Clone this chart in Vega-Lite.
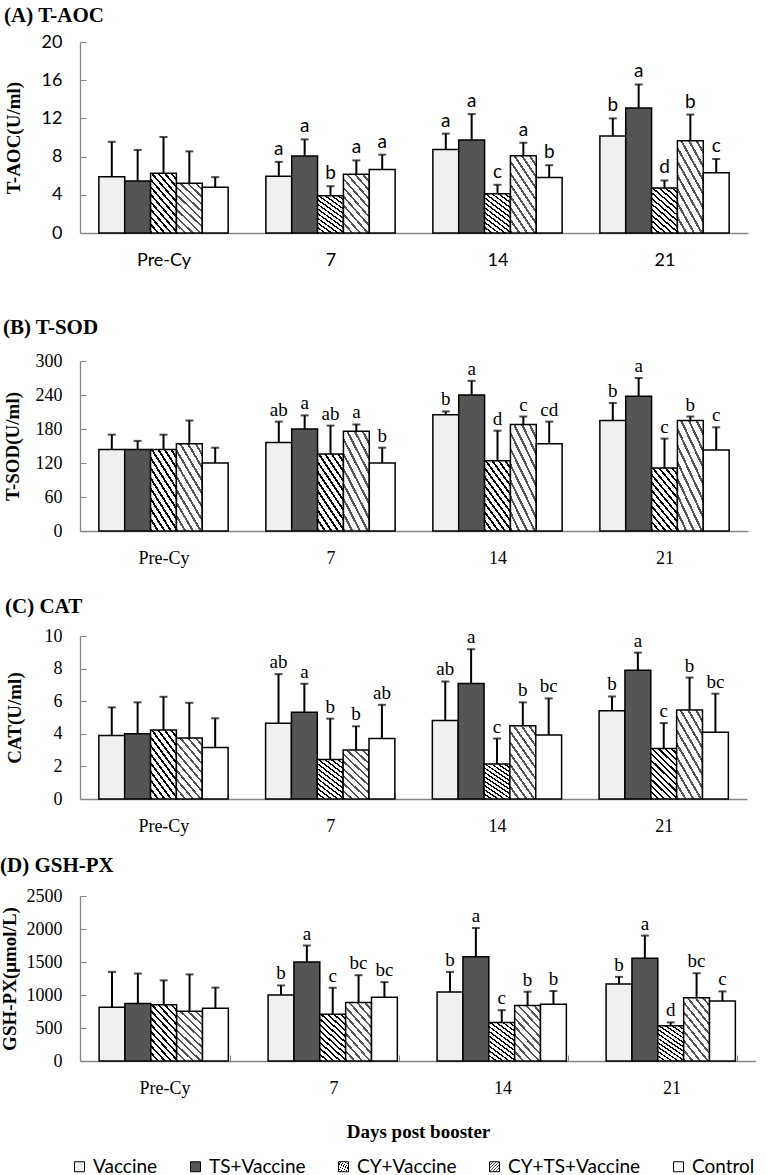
{
"$schema":"https://vega.github.io/schema/vega-lite/v6.json",
"padding":{"left":0,"top":5,"right":0,"bottom":0},
"config":{"view":{"stroke":null},"axis":{"grid":false,"labelOverlap":false}},
"params":[
{"name":"gCY","value":{"gradient":"linear","x1":0,"y1":1,"x2":0.6,"y2":-0.2,"stops":[{"offset":0,"color":"#000"},{"offset":0.0292,"color":"#000"},{"offset":0.0292,"color":"#fff"},{"offset":0.0833,"color":"#fff"},{"offset":0.0833,"color":"#000"},{"offset":0.1125,"color":"#000"},{"offset":0.1125,"color":"#fff"},{"offset":0.1667,"color":"#fff"},{"offset":0.1667,"color":"#000"},{"offset":0.1958,"color":"#000"},{"offset":0.1958,"color":"#fff"},{"offset":0.25,"color":"#fff"},{"offset":0.25,"color":"#000"},{"offset":0.2792,"color":"#000"},{"offset":0.2792,"color":"#fff"},{"offset":0.3333,"color":"#fff"},{"offset":0.3333,"color":"#000"},{"offset":0.3625,"color":"#000"},{"offset":0.3625,"color":"#fff"},{"offset":0.4167,"color":"#fff"},{"offset":0.4167,"color":"#000"},{"offset":0.4458,"color":"#000"},{"offset":0.4458,"color":"#fff"},{"offset":0.5,"color":"#fff"},{"offset":0.5,"color":"#000"},{"offset":0.5292,"color":"#000"},{"offset":0.5292,"color":"#fff"},{"offset":0.5833,"color":"#fff"},{"offset":0.5833,"color":"#000"},{"offset":0.6125,"color":"#000"},{"offset":0.6125,"color":"#fff"},{"offset":0.6667,"color":"#fff"},{"offset":0.6667,"color":"#000"},{"offset":0.6958,"color":"#000"},{"offset":0.6958,"color":"#fff"},{"offset":0.75,"color":"#fff"},{"offset":0.75,"color":"#000"},{"offset":0.7792,"color":"#000"},{"offset":0.7792,"color":"#fff"},{"offset":0.8333,"color":"#fff"},{"offset":0.8333,"color":"#000"},{"offset":0.8625,"color":"#000"},{"offset":0.8625,"color":"#fff"},{"offset":0.9167,"color":"#fff"},{"offset":0.9167,"color":"#000"},{"offset":0.9458,"color":"#000"},{"offset":0.9458,"color":"#fff"},{"offset":1,"color":"#fff"}]}},
{"name":"gCYTS","value":{"gradient":"linear","x1":0,"y1":1,"x2":0.6,"y2":-0.2,"stops":[{"offset":0,"color":"#555"},{"offset":0.03,"color":"#555"},{"offset":0.03,"color":"#fff"},{"offset":0.1,"color":"#fff"},{"offset":0.1,"color":"#555"},{"offset":0.13,"color":"#555"},{"offset":0.13,"color":"#fff"},{"offset":0.2,"color":"#fff"},{"offset":0.2,"color":"#555"},{"offset":0.23,"color":"#555"},{"offset":0.23,"color":"#fff"},{"offset":0.3,"color":"#fff"},{"offset":0.3,"color":"#555"},{"offset":0.33,"color":"#555"},{"offset":0.33,"color":"#fff"},{"offset":0.4,"color":"#fff"},{"offset":0.4,"color":"#555"},{"offset":0.43,"color":"#555"},{"offset":0.43,"color":"#fff"},{"offset":0.5,"color":"#fff"},{"offset":0.5,"color":"#555"},{"offset":0.53,"color":"#555"},{"offset":0.53,"color":"#fff"},{"offset":0.6,"color":"#fff"},{"offset":0.6,"color":"#555"},{"offset":0.63,"color":"#555"},{"offset":0.63,"color":"#fff"},{"offset":0.7,"color":"#fff"},{"offset":0.7,"color":"#555"},{"offset":0.73,"color":"#555"},{"offset":0.73,"color":"#fff"},{"offset":0.8,"color":"#fff"},{"offset":0.8,"color":"#555"},{"offset":0.83,"color":"#555"},{"offset":0.83,"color":"#fff"},{"offset":0.9,"color":"#fff"},{"offset":0.9,"color":"#555"},{"offset":0.93,"color":"#555"},{"offset":0.93,"color":"#fff"},{"offset":1,"color":"#fff"}]}}
],
"datasets":{
"A":[
{"day":"Pre-Cy","group":"Vaccine","mean":5.9,"upper":9.55,"sig":""},
{"day":"Pre-Cy","group":"TS+Vaccine","mean":5.45,"upper":8.7,"sig":""},
{"day":"Pre-Cy","group":"CY+Vaccine","mean":6.25,"upper":10.05,"sig":""},
{"day":"Pre-Cy","group":"CY+TS+Vaccine","mean":5.2,"upper":8.55,"sig":""},
{"day":"Pre-Cy","group":"Control","mean":4.8,"upper":5.85,"sig":""},
{"day":"7","group":"Vaccine","mean":5.95,"upper":7.45,"sig":"a"},
{"day":"7","group":"TS+Vaccine","mean":8.05,"upper":9.8,"sig":"a"},
{"day":"7","group":"CY+Vaccine","mean":3.9,"upper":4.9,"sig":"b"},
{"day":"7","group":"CY+TS+Vaccine","mean":6.15,"upper":7.6,"sig":"a"},
{"day":"7","group":"Control","mean":6.65,"upper":8.2,"sig":"a"},
{"day":"14","group":"Vaccine","mean":8.75,"upper":10.4,"sig":"a"},
{"day":"14","group":"TS+Vaccine","mean":9.75,"upper":12.45,"sig":"a"},
{"day":"14","group":"CY+Vaccine","mean":4.1,"upper":5.05,"sig":"c"},
{"day":"14","group":"CY+TS+Vaccine","mean":8.1,"upper":9.45,"sig":"a"},
{"day":"14","group":"Control","mean":5.8,"upper":7.1,"sig":"b"},
{"day":"21","group":"Vaccine","mean":10.15,"upper":12.0,"sig":"b"},
{"day":"21","group":"TS+Vaccine","mean":13.1,"upper":15.55,"sig":"a"},
{"day":"21","group":"CY+Vaccine","mean":4.7,"upper":5.5,"sig":"d"},
{"day":"21","group":"CY+TS+Vaccine","mean":9.65,"upper":12.4,"sig":"b"},
{"day":"21","group":"Control","mean":6.3,"upper":7.75,"sig":"c"}
],
"B":[
{"day":"Pre-Cy","group":"Vaccine","mean":144,"upper":170,"sig":""},
{"day":"Pre-Cy","group":"TS+Vaccine","mean":144,"upper":159,"sig":""},
{"day":"Pre-Cy","group":"CY+Vaccine","mean":144,"upper":170,"sig":""},
{"day":"Pre-Cy","group":"CY+TS+Vaccine","mean":154,"upper":195,"sig":""},
{"day":"Pre-Cy","group":"Control","mean":120,"upper":147,"sig":""},
{"day":"7","group":"Vaccine","mean":156,"upper":193,"sig":"ab"},
{"day":"7","group":"TS+Vaccine","mean":180,"upper":204,"sig":"a"},
{"day":"7","group":"CY+Vaccine","mean":136,"upper":186,"sig":"ab"},
{"day":"7","group":"CY+TS+Vaccine","mean":176,"upper":188,"sig":"a"},
{"day":"7","group":"Control","mean":120,"upper":147,"sig":"b"},
{"day":"14","group":"Vaccine","mean":205,"upper":211,"sig":"b"},
{"day":"14","group":"TS+Vaccine","mean":240,"upper":265,"sig":"a"},
{"day":"14","group":"CY+Vaccine","mean":124,"upper":177,"sig":"d"},
{"day":"14","group":"CY+TS+Vaccine","mean":188,"upper":202,"sig":"c"},
{"day":"14","group":"Control","mean":154,"upper":193,"sig":"cd"},
{"day":"21","group":"Vaccine","mean":195,"upper":226,"sig":"b"},
{"day":"21","group":"TS+Vaccine","mean":238,"upper":270,"sig":"a"},
{"day":"21","group":"CY+Vaccine","mean":111,"upper":163,"sig":"c"},
{"day":"21","group":"CY+TS+Vaccine","mean":195,"upper":202,"sig":"b"},
{"day":"21","group":"Control","mean":143,"upper":183,"sig":"c"}
],
"C":[
{"day":"Pre-Cy","group":"Vaccine","mean":3.9,"upper":5.62,"sig":""},
{"day":"Pre-Cy","group":"TS+Vaccine","mean":4.0,"upper":5.93,"sig":""},
{"day":"Pre-Cy","group":"CY+Vaccine","mean":4.24,"upper":6.27,"sig":""},
{"day":"Pre-Cy","group":"CY+TS+Vaccine","mean":3.75,"upper":5.9,"sig":""},
{"day":"Pre-Cy","group":"Control","mean":3.16,"upper":4.95,"sig":""},
{"day":"7","group":"Vaccine","mean":4.64,"upper":7.66,"sig":"ab"},
{"day":"7","group":"TS+Vaccine","mean":5.32,"upper":7.07,"sig":"a"},
{"day":"7","group":"CY+Vaccine","mean":2.42,"upper":4.93,"sig":"b"},
{"day":"7","group":"CY+TS+Vaccine","mean":3.0,"upper":4.46,"sig":"b"},
{"day":"7","group":"Control","mean":3.71,"upper":5.78,"sig":"ab"},
{"day":"14","group":"Vaccine","mean":4.81,"upper":7.21,"sig":"ab"},
{"day":"14","group":"TS+Vaccine","mean":7.09,"upper":9.19,"sig":"a"},
{"day":"14","group":"CY+Vaccine","mean":2.14,"upper":3.71,"sig":"c"},
{"day":"14","group":"CY+TS+Vaccine","mean":4.5,"upper":5.93,"sig":"b"},
{"day":"14","group":"Control","mean":3.93,"upper":6.17,"sig":"bc"},
{"day":"21","group":"Vaccine","mean":5.42,"upper":6.29,"sig":"b"},
{"day":"21","group":"TS+Vaccine","mean":7.9,"upper":8.98,"sig":"a"},
{"day":"21","group":"CY+Vaccine","mean":3.1,"upper":4.66,"sig":"c"},
{"day":"21","group":"CY+TS+Vaccine","mean":5.46,"upper":7.45,"sig":"b"},
{"day":"21","group":"Control","mean":4.09,"upper":6.46,"sig":"bc"}
],
"D":[
{"day":"Pre-Cy","group":"Vaccine","mean":815,"upper":1350,"sig":""},
{"day":"Pre-Cy","group":"TS+Vaccine","mean":870,"upper":1325,"sig":""},
{"day":"Pre-Cy","group":"CY+Vaccine","mean":852,"upper":1222,"sig":""},
{"day":"Pre-Cy","group":"CY+TS+Vaccine","mean":752,"upper":1312,"sig":""},
{"day":"Pre-Cy","group":"Control","mean":800,"upper":1112,"sig":""},
{"day":"7","group":"Vaccine","mean":1000,"upper":1145,"sig":"b"},
{"day":"7","group":"TS+Vaccine","mean":1500,"upper":1750,"sig":"a"},
{"day":"7","group":"CY+Vaccine","mean":710,"upper":1110,"sig":"c"},
{"day":"7","group":"CY+TS+Vaccine","mean":885,"upper":1300,"sig":"bc"},
{"day":"7","group":"Control","mean":965,"upper":1195,"sig":"bc"},
{"day":"14","group":"Vaccine","mean":1045,"upper":1350,"sig":"b"},
{"day":"14","group":"TS+Vaccine","mean":1580,"upper":2015,"sig":"a"},
{"day":"14","group":"CY+Vaccine","mean":585,"upper":770,"sig":"c"},
{"day":"14","group":"CY+TS+Vaccine","mean":840,"upper":1050,"sig":"b"},
{"day":"14","group":"Control","mean":860,"upper":1060,"sig":"b"},
{"day":"21","group":"Vaccine","mean":1165,"upper":1275,"sig":"b"},
{"day":"21","group":"TS+Vaccine","mean":1555,"upper":1900,"sig":"a"},
{"day":"21","group":"CY+Vaccine","mean":535,"upper":585,"sig":"d"},
{"day":"21","group":"CY+TS+Vaccine","mean":960,"upper":1330,"sig":"bc"},
{"day":"21","group":"Control","mean":910,"upper":1055,"sig":"c"}
]
},
"spacing":20,
"align":"none",
"resolve":{"scale":{"fill":"shared"},"legend":{"fill":"shared"}},
"vconcat":[
{
"data":{"name":"A"},
"width":668,"height":191,
"title":{"text":"(A) T-AOC","anchor":"start","frame":"bounds","font":"Liberation Serif","fontSize":21,"fontWeight":"bold","color":"black","offset":7},
"encoding":{
"x":{"field":"day","type":"nominal","sort":["Pre-Cy","7","14","21"],"title":" ","scale":{"paddingInner":0.226,"paddingOuter":0.113},"axis":{"labelAngle":0,"tickBand":"extent","tickSize":-6,"tickColor":"#868686","domainColor":"#868686","domainWidth":1.5,"labelFont":"Lato","labelFontSize":18,"labelColor":"black","labelPadding":24,"titleFontSize":10,"titlePadding":18}},
"xOffset":{"field":"group","type":"nominal","sort":["Vaccine","TS+Vaccine","CY+Vaccine","CY+TS+Vaccine","Control"],"scale":{"paddingInner":0,"paddingOuter":0}}
},
"layer":[
{"mark":{"type":"bar","stroke":"black","strokeWidth":1.5},
"encoding":{"y":{"field":"mean","type":"quantitative","title":"T-AOC(U/ml)","scale":{"domain":[0,20],"nice":false},"axis":{"values":[0,4,8,12,16,20],"tickCount":12,"labelOverlap":false,"tickSize":-6,"tickColor":"#868686","domainColor":"#868686","domainWidth":1.3,"labelFont":"Lato","labelFontSize":18,"labelColor":"black","labelPadding":24,"titleFont":"Liberation Serif","titleFontSize":19,"titleFontWeight":"bold","titleColor":"black","titlePadding":18}},
"fill":{"field":"group","type":"nominal","sort":["Vaccine","TS+Vaccine","CY+Vaccine","CY+TS+Vaccine","Control"],"scale":{"domain":["Vaccine","TS+Vaccine","CY+Vaccine","CY+TS+Vaccine","Control"],"range":["#f0f0f0","#555555",{"expr":"gCY"},{"expr":"gCYTS"},"#ffffff"]},"legend":{"orient":"none","legendX":-10,"legendY":1115,"direction":"horizontal","columns":5,"title":null,"symbolType":"square","symbolSize":100,"symbolStrokeColor":"black","symbolStrokeWidth":1,"labelFont":"Lato","labelFontSize":19,"labelColor":"black","columnPadding":28,"labelOffset":4}}}},
{"mark":{"type":"rule","color":"black","strokeWidth":2},"encoding":{"y":{"field":"mean","type":"quantitative","title":"T-AOC(U/ml)"},"y2":{"field":"upper"}}},
{"mark":{"type":"tick","color":"black","thickness":2,"size":8},"encoding":{"y":{"field":"upper","type":"quantitative","title":"T-AOC(U/ml)"}}},
{"mark":{"type":"text","baseline":"alphabetic","dy":-7,"font":"Lato","fontSize":19,"color":"black"},"encoding":{"y":{"field":"upper","type":"quantitative","title":"T-AOC(U/ml)"},"text":{"field":"sig"}}}
]
},
{
"data":{"name":"B"},
"width":668,"height":170,
"title":{"text":"(B) T-SOD","anchor":"start","frame":"bounds","font":"Liberation Serif","fontSize":21,"fontWeight":"bold","color":"black","offset":14},
"encoding":{
"x":{"field":"day","type":"nominal","sort":["Pre-Cy","7","14","21"],"title":" ","scale":{"paddingInner":0.226,"paddingOuter":0.113},"axis":{"labelAngle":0,"tickBand":"extent","tickSize":-6,"tickColor":"#868686","domainColor":"#868686","domainWidth":1.5,"labelFont":"Liberation Serif","labelFontSize":18,"labelColor":"black","labelPadding":24,"titleFontSize":4,"titlePadding":5}},
"xOffset":{"field":"group","type":"nominal","sort":["Vaccine","TS+Vaccine","CY+Vaccine","CY+TS+Vaccine","Control"],"scale":{"paddingInner":0,"paddingOuter":0}}
},
"layer":[
{"mark":{"type":"bar","stroke":"black","strokeWidth":1.5},
"encoding":{"y":{"field":"mean","type":"quantitative","title":"T-SOD(U/ml)","scale":{"domain":[0,300],"nice":false},"axis":{"values":[0,60,120,180,240,300],"tickCount":12,"labelOverlap":false,"tickSize":-6,"tickColor":"#868686","domainColor":"#868686","domainWidth":1.3,"labelFont":"Liberation Serif","labelFontSize":18,"labelColor":"black","labelPadding":24,"titleFont":"Liberation Serif","titleFontSize":19,"titleFontWeight":"bold","titleColor":"black","titlePadding":13}},
"fill":{"field":"group","type":"nominal","sort":["Vaccine","TS+Vaccine","CY+Vaccine","CY+TS+Vaccine","Control"],"scale":{"domain":["Vaccine","TS+Vaccine","CY+Vaccine","CY+TS+Vaccine","Control"],"range":["#f0f0f0","#555555",{"expr":"gCY"},{"expr":"gCYTS"},"#ffffff"]},"legend":{"orient":"none","legendX":-10,"legendY":1115,"direction":"horizontal","columns":5,"title":null,"symbolType":"square","symbolSize":100,"symbolStrokeColor":"black","symbolStrokeWidth":1,"labelFont":"Lato","labelFontSize":19,"labelColor":"black","columnPadding":28,"labelOffset":4}}}},
{"mark":{"type":"rule","color":"black","strokeWidth":2},"encoding":{"y":{"field":"mean","type":"quantitative","title":"T-SOD(U/ml)"},"y2":{"field":"upper"}}},
{"mark":{"type":"tick","color":"black","thickness":2,"size":8},"encoding":{"y":{"field":"upper","type":"quantitative","title":"T-SOD(U/ml)"}}},
{"mark":{"type":"text","baseline":"alphabetic","dy":-6,"font":"Liberation Serif","fontSize":19,"color":"black"},"encoding":{"y":{"field":"upper","type":"quantitative","title":"T-SOD(U/ml)"},"text":{"field":"sig"}}}
]
},
{
"data":{"name":"C"},
"width":667,"height":163,
"title":{"text":"(C) CAT","anchor":"start","frame":"bounds","font":"Liberation Serif","fontSize":21,"fontWeight":"bold","color":"black","offset":10},
"encoding":{
"x":{"field":"day","type":"nominal","sort":["Pre-Cy","7","14","21"],"title":null,"scale":{"paddingInner":0.226,"paddingOuter":0.113},"axis":{"labelAngle":0,"tickBand":"extent","tickSize":-6,"tickColor":"#868686","domainColor":"#868686","domainWidth":1.5,"labelFont":"Liberation Serif","labelFontSize":18,"labelColor":"black","labelPadding":24}},
"xOffset":{"field":"group","type":"nominal","sort":["Vaccine","TS+Vaccine","CY+Vaccine","CY+TS+Vaccine","Control"],"scale":{"paddingInner":0,"paddingOuter":0}}
},
"layer":[
{"mark":{"type":"bar","stroke":"black","strokeWidth":1.5},
"encoding":{"y":{"field":"mean","type":"quantitative","title":"CAT(U/ml)","scale":{"domain":[0,10],"nice":false},"axis":{"values":[0,2,4,6,8,10],"tickCount":12,"labelOverlap":false,"tickSize":-6,"tickColor":"#868686","domainColor":"#868686","domainWidth":1.3,"labelFont":"Liberation Serif","labelFontSize":18,"labelColor":"black","labelPadding":24,"titleFont":"Liberation Serif","titleFontSize":19,"titleFontWeight":"bold","titleColor":"black","titlePadding":20}},
"fill":{"field":"group","type":"nominal","sort":["Vaccine","TS+Vaccine","CY+Vaccine","CY+TS+Vaccine","Control"],"scale":{"domain":["Vaccine","TS+Vaccine","CY+Vaccine","CY+TS+Vaccine","Control"],"range":["#f0f0f0","#555555",{"expr":"gCY"},{"expr":"gCYTS"},"#ffffff"]},"legend":{"orient":"none","legendX":-10,"legendY":1115,"direction":"horizontal","columns":5,"title":null,"symbolType":"square","symbolSize":100,"symbolStrokeColor":"black","symbolStrokeWidth":1,"labelFont":"Lato","labelFontSize":19,"labelColor":"black","columnPadding":28,"labelOffset":4}}}},
{"mark":{"type":"rule","color":"black","strokeWidth":2},"encoding":{"y":{"field":"mean","type":"quantitative","title":"CAT(U/ml)"},"y2":{"field":"upper"}}},
{"mark":{"type":"tick","color":"black","thickness":2,"size":8},"encoding":{"y":{"field":"upper","type":"quantitative","title":"CAT(U/ml)"}}},
{"mark":{"type":"text","baseline":"alphabetic","dy":-6,"font":"Liberation Serif","fontSize":19,"color":"black"},"encoding":{"y":{"field":"upper","type":"quantitative","title":"CAT(U/ml)"},"text":{"field":"sig"}}}
]
},
{
"data":{"name":"D"},
"width":676,"height":165,
"title":{"text":"(D) GSH-PX","anchor":"start","frame":"bounds","font":"Liberation Serif","fontSize":21,"fontWeight":"bold","color":"black","offset":11},
"encoding":{
"x":{"field":"day","type":"nominal","sort":["Pre-Cy","7","14","21"],"title":"Days post booster","scale":{"paddingInner":0.226,"paddingOuter":0.113},"axis":{"labelAngle":0,"tickBand":"extent","tickSize":-6,"tickColor":"#868686","domainColor":"#868686","domainWidth":1.5,"labelFont":"Liberation Serif","labelFontSize":18,"labelColor":"black","labelPadding":24,"titleFont":"Liberation Serif","titleFontSize":19,"titleFontWeight":"bold","titleColor":"black","titlePadding":25}},
"xOffset":{"field":"group","type":"nominal","sort":["Vaccine","TS+Vaccine","CY+Vaccine","CY+TS+Vaccine","Control"],"scale":{"paddingInner":0,"paddingOuter":0}}
},
"layer":[
{"mark":{"type":"bar","stroke":"black","strokeWidth":1.5},
"encoding":{"y":{"field":"mean","type":"quantitative","title":"GSH-PX(μmol/L)","scale":{"domain":[0,2500],"nice":false},"axis":{"values":[0,500,1000,1500,2000,2500],"tickCount":12,"labelOverlap":false,"format":"d","tickSize":-6,"tickColor":"#868686","domainColor":"#868686","domainWidth":1.3,"labelFont":"Liberation Serif","labelFontSize":18,"labelColor":"black","labelPadding":24,"titleFont":"Liberation Serif","titleFontSize":19,"titleFontWeight":"bold","titleColor":"black","titlePadding":7}},
"fill":{"field":"group","type":"nominal","sort":["Vaccine","TS+Vaccine","CY+Vaccine","CY+TS+Vaccine","Control"],"scale":{"domain":["Vaccine","TS+Vaccine","CY+Vaccine","CY+TS+Vaccine","Control"],"range":["#f0f0f0","#555555",{"expr":"gCY"},{"expr":"gCYTS"},"#ffffff"]},"legend":{"orient":"none","legendX":-10,"legendY":1115,"direction":"horizontal","columns":5,"title":null,"symbolType":"square","symbolSize":100,"symbolStrokeColor":"black","symbolStrokeWidth":1,"labelFont":"Lato","labelFontSize":19,"labelColor":"black","columnPadding":28,"labelOffset":4}}}},
{"mark":{"type":"rule","color":"black","strokeWidth":2},"encoding":{"y":{"field":"mean","type":"quantitative","title":"GSH-PX(μmol/L)"},"y2":{"field":"upper"}}},
{"mark":{"type":"tick","color":"black","thickness":2,"size":8},"encoding":{"y":{"field":"upper","type":"quantitative","title":"GSH-PX(μmol/L)"}}},
{"mark":{"type":"text","baseline":"alphabetic","dy":-6,"font":"Liberation Serif","fontSize":19,"color":"black"},"encoding":{"y":{"field":"upper","type":"quantitative","title":"GSH-PX(μmol/L)"},"text":{"field":"sig"}}}
]
}
]
}
